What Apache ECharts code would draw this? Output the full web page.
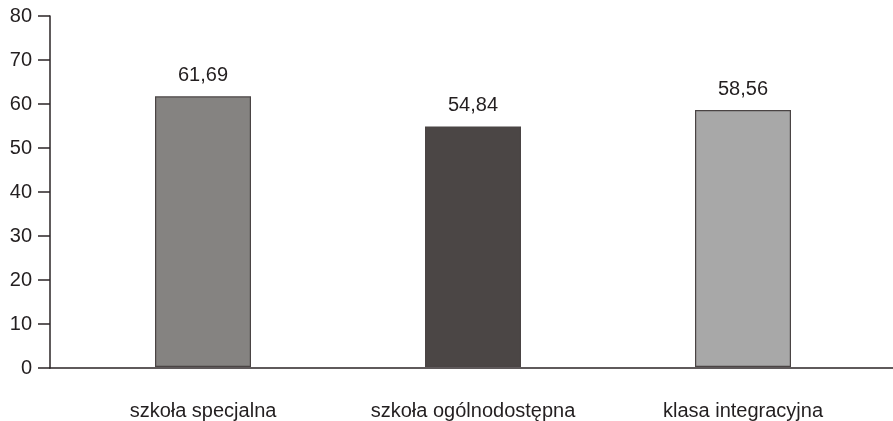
<!DOCTYPE html>
<html>
<head>
<meta charset="utf-8">
<script src="https://cdn.jsdelivr.net/npm/echarts@6/dist/echarts.min.js"></script>
<style>
  html, body { margin: 0; padding: 0; background: #fff; }
  #chart { width: 893px; height: 421px; }
</style>
</head>
<body>
<div id="chart"></div>
<script>
// Mean scores by type of school
const categories = ['szkoła specjalna', 'szkoła ogólnodostępna', 'klasa integracyjna'];
const values = [61.69, 54.84, 58.56];
const barColors = ['#858381', '#4b4645', '#a8a8a8'];
const yTicks = { min: 0, max: 80, interval: 10 };

const FONT = 'Liberation Sans, Arial, sans-serif';
const TEXT = '#231f20';
const AXIS = '#2b2526';

const chart = echarts.init(document.getElementById('chart'), null, { renderer: 'canvas' });

const fmt = v => v.toFixed(2).replace('.', ',');

chart.setOption({
  animation: false,
  backgroundColor: '#ffffff',
  grid: [
    // frame grid: carries the value axis and the full-width baseline
    { left: 50, right: 0, top: 16, bottom: 53, containLabel: false },
    // bar grid: category bands for the bars and their labels
    { left: 68, right: 15, top: 16, bottom: 53, containLabel: false }
  ],
  xAxis: [
    {
      type: 'category', gridIndex: 0, data: [''],
      axisLine: { show: true, lineStyle: { color: AXIS, width: 1.5 } },
      axisTick: { show: false }, axisLabel: { show: false }, splitLine: { show: false }
    },
    {
      type: 'category', gridIndex: 1, data: categories,
      axisLine: { show: false }, axisTick: { show: false },
      axisLabel: { color: TEXT, fontFamily: FONT, fontSize: 20, margin: 34 }
    }
  ],
  yAxis: [
    {
      type: 'value', gridIndex: 0, min: yTicks.min, max: yTicks.max, interval: yTicks.interval,
      axisLine: { show: true, lineStyle: { color: AXIS, width: 1.5 } },
      axisTick: { show: true, inside: false, length: 12, lineStyle: { color: AXIS, width: 1.5 } },
      axisLabel: { color: TEXT, fontFamily: FONT, fontSize: 20, margin: 18 },
      splitLine: { show: false }
    },
    {
      type: 'value', gridIndex: 1, min: yTicks.min, max: yTicks.max, interval: yTicks.interval,
      show: false
    }
  ],
  series: [{
    type: 'bar',
    xAxisIndex: 1, yAxisIndex: 1,
    barWidth: 96,
    data: values.map((v, i) => ({
      value: v,
      itemStyle: { color: barColors[i], borderColor: '#4a4444', borderWidth: 1.2 }
    })),
    label: {
      show: true, position: 'top', distance: 11,
      color: TEXT, fontFamily: FONT, fontSize: 20,
      formatter: p => fmt(p.value)
    }
  }]
});
</script>
</body>
</html>
